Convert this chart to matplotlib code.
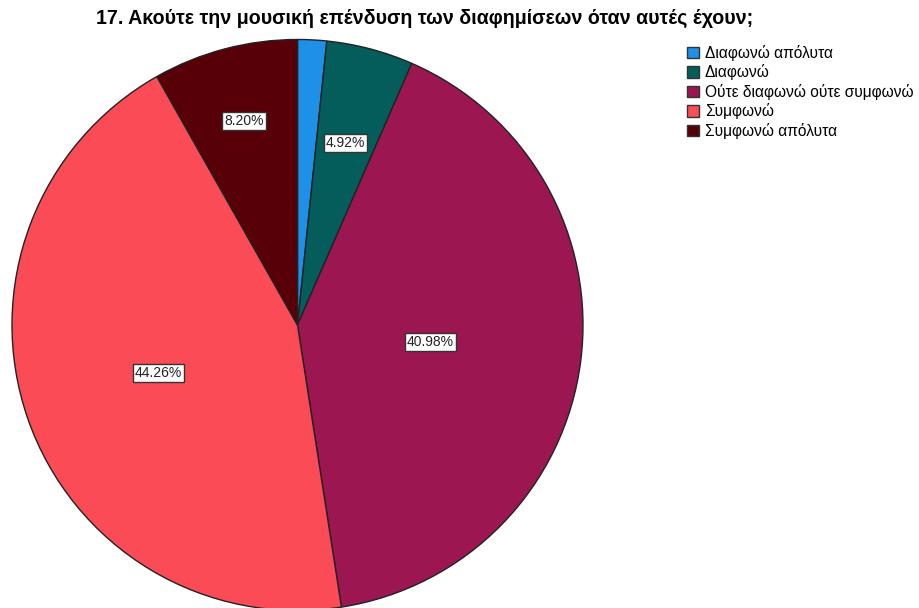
import numpy as np
import matplotlib.pyplot as plt
from matplotlib.patches import Patch

categories = ['Διαφωνώ απόλυτα', 'Διαφωνώ', 'Ούτε διαφωνώ ούτε συμφωνώ', 'Συμφωνώ', 'Συμφωνώ απόλυτα']
counts = [1, 3, 25, 27, 5]
colors = ['#1f90e8', '#045d5b', '#9c1751', '#fb4b56', '#570007']
label_shown = [False, True, True, True, True]
label_dist = [0.7, 0.66, 0.47, 0.515, 0.74]

plt.rcParams['font.family'] = ['Liberation Sans', 'DejaVu Sans']

fig = plt.figure(figsize=(9.19, 6.08), dpi=100)
W, H = 919, 608
r = 285.5
cx, cy = 297.5, 325
ax = fig.add_axes([(cx - r) / W, (H - cy - r) / H, 2 * r / W, 2 * r / H])

wedges, _ = ax.pie(counts, colors=colors, startangle=90, counterclock=False,
                   radius=1, wedgeprops=dict(edgecolor='#222222', linewidth=1))
ax.set_xlim(-1, 1)
ax.set_ylim(-1, 1)
ax.axis('off')
for w in wedges:
    w.set_clip_on(False)

total = sum(counts)
for w, n, show, d in zip(wedges, counts, label_shown, label_dist):
    if not show:
        continue
    mid = np.deg2rad((w.theta1 + w.theta2) / 2)
    ax.text(d * np.cos(mid), d * np.sin(mid), f'{100 * n / total:.2f}%',
            ha='center', va='center', fontsize=10, color='#222222',
            bbox=dict(boxstyle='square,pad=0.15', fc='white', ec='#333333', lw=1))

fig.text(425 / W, 1 - 18 / H, '17. Ακούτε την μουσική επένδυση των διαφημίσεων όταν αυτές έχουν;',
         ha='center', va='center', fontsize=14.1, fontweight='bold')

handles = [Patch(facecolor=c, edgecolor='#333333', label=l) for c, l in zip(colors, categories)]
fig.legend(handles=handles, loc='upper left', bbox_to_anchor=(687 / W, 1 - 45 / H),
           frameon=False, fontsize=11.2, handlelength=0.75, handleheight=0.75,
           handletextpad=0.4, labelspacing=0.22, borderpad=0, borderaxespad=0)

fig.savefig('out.png', dpi=100)
